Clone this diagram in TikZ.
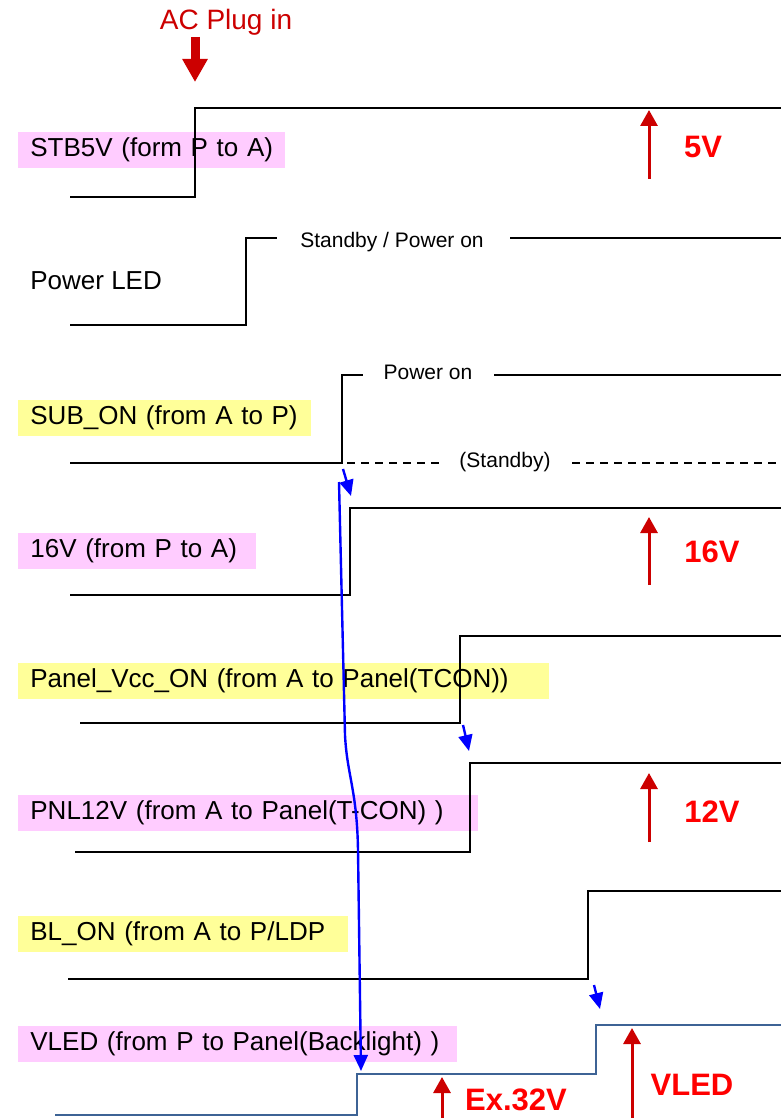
\documentclass[tikz,border=0pt]{standalone}
\usepackage{fontspec}
\setmainfont{Liberation Sans}
\usetikzlibrary{arrows.meta,positioning}
\definecolor{BoxPink}{RGB}{255,204,255}
\definecolor{BoxYel}{RGB}{255,255,153}
\definecolor{ArrRed}{RGB}{204,0,0}
\definecolor{TxtRed}{RGB}{255,0,0}
\definecolor{LedBlue}{RGB}{61,99,149}
\tikzset{
  sig/.style={inner xsep=6pt,inner ysep=0pt,minimum height=18pt,anchor=west,
              align=left,font=\fontsize{13}{15}\selectfont},
  pinkbox/.style={sig,fill=BoxPink},
  yelbox/.style={sig,fill=BoxYel},
  note/.style={inner sep=0pt,font=\fontsize{10.5}{12}\selectfont},
  volt/.style={inner sep=0pt,text=TxtRed,font=\fontsize{15.5}{17}\selectfont\bfseries},
  wave/.style={line width=1pt,line join=miter},
  rise/.style={-{Triangle[length=8pt,width=8.5pt]},line width=1.5pt,ArrRed},
  trig/.style={-{Triangle[length=8pt,width=7pt]},line width=1.2pt,blue},
}

\begin{document}
\begin{tikzpicture}[x=0.5pt,y=-0.5pt]
  \fill[white] (0,0) rectangle (781,1118);
  \useasboundingbox (0,0) rectangle (781,1118);
  % signal names
  \node[pinkbox,text width=121.5pt] (stb) at (18,150) {STB5V (form P to A)};
  \node[sig] (led) at (18,281) {Power LED};
  \node[yelbox,text width=134.5pt] (sub) at (18,417.5) {SUB\_ON (from A to P)};
  \node[pinkbox,text width=107pt] (v16) at (18,551) {16V (from P to A)};
  \node[yelbox,text width=253.5pt] (pvcc) at (18,681) {Panel\_Vcc\_ON (from A to Panel(TCON))};
  \node[pinkbox,text width=218pt] (pnl) at (18,812.5) {PNL12V (from A to Panel(T-CON) )};
  \node[yelbox,text width=153pt] (bl) at (18,933.5) {BL\_ON (from A to P/LDP};
  \node[pinkbox,text width=207.5pt] (vled) at (18,1044) {VLED (from P to Panel(Backlight) )};

  % AC plug
  \node[inner sep=0pt,text=ArrRed,font=\fontsize{14}{16}\selectfont] (ac) at (226,22) {AC Plug in};
  \draw[-{Triangle[length=11.5pt,width=12pt]},line width=4.5pt,ArrRed] (195,37) -- (195,82);

  % waveforms
  \draw[wave] (70,197) -| (195,108) -- (781,108);
  \draw[wave] (70,325) -| (246,238) -- (277,238);
  \node[note] (sbpo) at (392,242) {Standby / Power on};
  \draw[wave] (510,238) -- (781,238);
  \draw[wave] (70,463) -| (342,375) -- (363,375);
  \node[note] (pon) at (428,372) {Power on};
  \draw[wave,line width=1.3pt] (494,375) -- (781,375);
  \draw[wave,dash pattern=on 4pt off 3pt] (305,463) -- (440,463);
  \node[note] (stby) at (505,462) {(Standby)};
  \draw[wave,dash pattern=on 4pt off 3pt] (572,463) -- (781,463);
  \draw[wave] (70,595) -| (350,508) -- (781,508);
  \draw[wave] (80,723) -| (460,636) -- (781,636);
  \draw[wave] (75,852) -| (470,763) -- (781,763);
  \draw[wave] (68,979) -| (588,891) -- (781,891);
  \draw[wave,LedBlue] (55,1115) -| (357,1074) -| (596,1025) -- (781,1025);

  % levels
  \draw[rise] (649,179) -- (649,110);
  \node[volt] (l5) at (703,147) {5V};
  \draw[rise] (649,585) -- (649,517);
  \node[volt] (l16) at (712,552) {16V};
  \draw[rise] (649,842) -- (649,773);
  \node[volt] (l12) at (712,812) {12V};
  \draw[rise] (442,1118) -- (442,1077);
  \node[volt] (l32) at (516,1100) {Ex.32V};
  \draw[rise] (632,1118) -- (632,1028);
  \node[volt] (lvled) at (692,1085) {VLED};

  % sequence
  \draw[trig] (343,469) -- (351,496);
  \draw[trig] (339,482) -- (345,735) .. controls (347,775) and (357,790) .. (358,850) -- (361,1071);
  \draw[trig] (463,725) -- (469,751);
  \draw[trig] (594,985) -- (600,1009);
\end{tikzpicture}
\end{document}
